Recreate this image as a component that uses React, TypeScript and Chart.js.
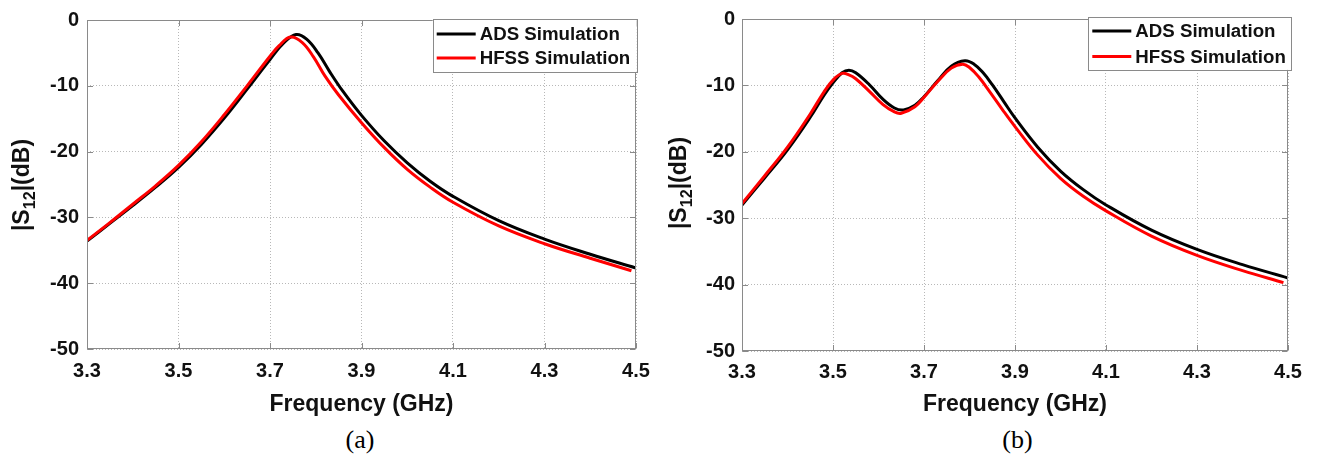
import React, { useEffect, useRef } from "react";
import { Chart, registerables } from "chart.js";

Chart.register(...registerables);

// ---------- data ----------
const seriesLabels = ["ADS Simulation", "HFSS Simulation"];
const seriesColors = ["#000000", "#ff0000"];
const xTicks = [3.3, 3.5, 3.7, 3.9, 4.1, 4.3, 4.5];
const yTicks = [0, -10, -20, -30, -40, -50];

// (a)
const freqA_ads = [3.3, 3.35, 3.4, 3.45, 3.5, 3.55, 3.6, 3.65, 3.7, 3.73, 3.757, 3.78, 3.805, 3.83, 3.86, 3.9, 3.95, 4.0, 4.05, 4.1, 4.2, 4.3, 4.4, 4.5];
const s12A_ads = [-33.6, -30.9, -28.2, -25.4, -22.4, -18.9, -14.9, -10.5, -6.0, -3.5, -2.2, -2.9, -5.0, -7.8, -10.9, -14.5, -18.4, -21.7, -24.5, -26.8, -30.5, -33.3, -35.6, -37.7];
const freqA_hfss = [3.3, 3.35, 3.4, 3.45, 3.5, 3.55, 3.6, 3.65, 3.7, 3.72, 3.745, 3.77, 3.795, 3.82, 3.85, 3.9, 3.95, 4.0, 4.05, 4.1, 4.2, 4.3, 4.4, 4.49];
const s12A_hfss = [-33.5, -30.8, -28.0, -25.2, -22.1, -18.5, -14.4, -10.0, -5.5, -3.9, -2.6, -3.4, -5.6, -8.5, -11.4, -15.6, -19.4, -22.7, -25.4, -27.7, -31.3, -34.0, -36.2, -38.1];

// (b)
const freqB_ads = [3.3, 3.35, 3.4, 3.45, 3.48, 3.5, 3.52, 3.535, 3.55, 3.58, 3.61, 3.635, 3.655, 3.68, 3.7, 3.73, 3.76, 3.79, 3.81, 3.83, 3.85, 3.875, 3.9, 3.95, 4.0, 4.05, 4.1, 4.2, 4.3, 4.4, 4.5];
const s12B_ads = [-28.0, -23.9, -19.7, -14.8, -11.5, -9.6, -8.1, -7.7, -8.1, -9.9, -12.1, -13.4, -13.7, -13.0, -11.7, -9.3, -7.1, -6.3, -6.8, -8.1, -9.9, -12.4, -14.9, -19.3, -22.9, -25.7, -28.0, -31.8, -34.7, -37.0, -39.0];
const freqB_hfss = [3.3, 3.35, 3.4, 3.45, 3.48, 3.5, 3.52, 3.535, 3.55, 3.58, 3.61, 3.635, 3.65, 3.68, 3.7, 3.73, 3.76, 3.785, 3.8, 3.82, 3.845, 3.875, 3.9, 3.95, 4.0, 4.05, 4.1, 4.2, 4.3, 4.4, 4.49];
const s12B_hfss = [-27.8, -23.6, -19.3, -14.3, -11.0, -9.2, -8.2, -8.4, -9.0, -10.9, -12.9, -14.0, -14.2, -13.2, -11.8, -9.4, -7.4, -6.8, -7.3, -8.7, -11.0, -13.9, -16.2, -20.5, -24.0, -26.7, -28.9, -32.7, -35.6, -37.9, -39.7];

// ---------- styling ----------
const FONT = "'Liberation Sans', Arial, Helvetica, sans-serif";
const SERIF = "'Liberation Serif', 'Times New Roman', serif";
const AXIS_COLOR = "#8a8a8a";
const TEXT_COLOR = "#111111";

const framePlugin = {
  id: "frame",
  afterDatasetsDraw(chart: any) {
    const { ctx, chartArea } = chart;
    const { left, top, right, bottom } = chartArea;
    const tl = 5.5;
    ctx.save();
    ctx.strokeStyle = AXIS_COLOR;
    ctx.lineWidth = 1;
    ctx.setLineDash([]);
    const L = Math.round(left) + 0.5;
    const R = Math.round(right) - 0.5;
    const T = Math.round(top) + 0.5;
    const B = Math.round(bottom) - 0.5;
    ctx.strokeRect(L, T, R - L, B - T);
    ctx.beginPath();
    chart.scales.x.ticks.forEach((t: any) => {
      const px = Math.round(chart.scales.x.getPixelForValue(t.value)) + 0.5;
      ctx.moveTo(px, B);
      ctx.lineTo(px, B - tl);
      ctx.moveTo(px, T);
      ctx.lineTo(px, T + tl);
    });
    chart.scales.y.ticks.forEach((t: any) => {
      const py = Math.round(chart.scales.y.getPixelForValue(t.value)) + 0.5;
      ctx.moveTo(L, py);
      ctx.lineTo(L + tl, py);
      ctx.moveTo(R, py);
      ctx.lineTo(R - tl, py);
    });
    ctx.stroke();
    ctx.restore();
  },
};

const boxLegendPlugin = {
  id: "boxLegend",
  afterDraw(chart: any, _args: any, opts: any) {
    const { ctx, chartArea } = chart;
    const w = opts.width;
    const h = opts.height;
    const x0 = chartArea.right + opts.right - w;
    const y0 = chartArea.top + opts.top;
    ctx.save();
    ctx.fillStyle = "#ffffff";
    ctx.fillRect(x0, y0, w, h);
    ctx.strokeStyle = AXIS_COLOR;
    ctx.lineWidth = 1;
    ctx.setLineDash([]);
    ctx.strokeRect(Math.round(x0) + 0.5, Math.round(y0) + 0.5, Math.round(w), Math.round(h));
    ctx.font = `bold ${opts.fontSize}px ${FONT}`;
    ctx.textBaseline = "middle";
    ctx.textAlign = "left";
    chart.data.datasets.forEach((ds: any, i: number) => {
      const ry = y0 + opts.rows[i];
      ctx.strokeStyle = ds.borderColor;
      ctx.lineWidth = 3;
      ctx.beginPath();
      ctx.moveTo(x0 + 4, ry);
      ctx.lineTo(x0 + 43, ry);
      ctx.stroke();
      ctx.fillStyle = TEXT_COLOR;
      ctx.fillText(ds.label, x0 + 47, ry + 1);
    });
    ctx.restore();
  },
};

type PanelCfg = {
  adsX: number[];
  adsY: number[];
  hfssX: number[];
  hfssY: number[];
  padding: { left: number; top: number; right: number; bottom: number };
  yW: number;
  xH: number;
  xPad: number;
  yPad: number;
  titlePad: number;
  legend: any;
};

function makeConfig(p: PanelCfg): any {
  const tickFont = { family: FONT, size: 20, weight: "bold" as const };
  const lineStyle = {
    borderWidth: 3,
    pointRadius: 0,
    fill: false,
    tension: 0.4,
    cubicInterpolationMode: "default",
  };
  return {
    type: "line",
    data: {
      datasets: [
        {
          label: seriesLabels[0],
          data: p.adsX.map((x, i) => ({ x, y: p.adsY[i] })),
          borderColor: seriesColors[0],
          backgroundColor: seriesColors[0],
          order: 1,
          ...lineStyle,
        },
        {
          label: seriesLabels[1],
          data: p.hfssX.map((x, i) => ({ x, y: p.hfssY[i] })),
          borderColor: seriesColors[1],
          backgroundColor: seriesColors[1],
          order: 0,
          ...lineStyle,
        },
      ],
    },
    options: {
      animation: false,
      responsive: false,
      devicePixelRatio: 1,
      layout: { padding: p.padding },
      plugins: {
        legend: { display: false },
        tooltip: { enabled: false },
        boxLegend: p.legend,
      },
      scales: {
        x: {
          type: "linear",
          min: xTicks[0],
          max: xTicks[xTicks.length - 1],
          afterBuildTicks: (s: any) => {
            s.ticks = xTicks.map((v) => ({ value: v }));
          },
          afterFit: (s: any) => {
            s.height = p.xH;
          },
          ticks: {
            padding: p.xPad,
            font: tickFont,
            color: TEXT_COLOR,
            maxRotation: 0,
            autoSkip: false,
            callback: (v: any) => Number(v).toFixed(1),
          },
          grid: { color: "#b8b8b8", lineWidth: 1, drawTicks: false },
          border: { display: false, dash: [1, 2] },
          title: {
            display: true,
            text: "Frequency (GHz)",
            font: { family: FONT, size: 23, weight: "bold" },
            color: TEXT_COLOR,
            padding: { top: 0, bottom: p.titlePad },
          },
        },
        y: {
          type: "linear",
          min: yTicks[yTicks.length - 1],
          max: yTicks[0],
          afterBuildTicks: (s: any) => {
            s.ticks = yTicks.slice().reverse().map((v) => ({ value: v }));
          },
          afterFit: (s: any) => {
            s.width = p.yW;
          },
          ticks: {
            padding: p.yPad,
            font: tickFont,
            color: TEXT_COLOR,
            autoSkip: false,
            callback: (v: any) => String(v),
          },
          grid: { color: "#b8b8b8", lineWidth: 1, drawTicks: false },
          border: { display: false, dash: [1, 2] },
          title: { display: false },
        },
      },
    },
    plugins: [framePlugin, boxLegendPlugin],
  };
}

const panelA: PanelCfg = {
  adsX: freqA_ads,
  adsY: s12A_ads,
  hfssX: freqA_hfss,
  hfssY: s12A_hfss,
  padding: { left: 0, top: 19, right: 26, bottom: 0 },
  yW: 87,
  xH: 71,
  xPad: 10,
  yPad: 8,
  titlePad: 2,
  legend: { right: 0.7, top: -0.7, width: 204, height: 53, rows: [14.8, 38.6], fontSize: 18.7 },
};

const panelB: PanelCfg = {
  adsX: freqB_ads,
  adsY: s12B_ads,
  hfssX: freqB_hfss,
  hfssY: s12B_hfss,
  padding: { left: 0, top: 13, right: 37, bottom: 0 },
  yW: 80,
  xH: 69,
  xPad: 9,
  yPad: 7,
  titlePad: 2,
  legend: { right: 3.3, top: -1.6, width: 203, height: 52.5, rows: [13.6, 39], fontSize: 18.7 },
};

function ChartPanel({ cfg, left, width, height }: { cfg: PanelCfg; left: number; width: number; height: number }) {
  const ref = useRef<HTMLCanvasElement | null>(null);
  useEffect(() => {
    if (!ref.current) return;
    const chart = new Chart(ref.current, makeConfig(cfg));
    return () => chart.destroy();
  }, [cfg]);
  return (
    <div style={{ position: "absolute", left, top: 0, width, height }}>
      <canvas ref={ref} width={width} height={height} style={{ display: "block", width, height }} />
    </div>
  );
}

function YTitle({ cx, cy }: { cx: number; cy: number }) {
  return (
    <div
      style={{
        position: "absolute",
        left: cx - 150,
        top: cy - 15,
        width: 300,
        height: 30,
        lineHeight: "30px",
        textAlign: "center",
        transform: "rotate(-90deg)",
        fontFamily: FONT,
        fontWeight: "bold",
        fontSize: 23,
        color: TEXT_COLOR,
        whiteSpace: "nowrap",
      }}
    >
      |S<sub style={{ fontSize: "0.7em", verticalAlign: "-0.35em", lineHeight: 0 }}>12</sub>|(dB)
    </div>
  );
}

function Caption({ cx, text }: { cx: number; text: string }) {
  return (
    <div
      style={{
        position: "absolute",
        left: cx - 50,
        top: 424.5,
        width: 100,
        height: 30,
        lineHeight: "30px",
        textAlign: "center",
        fontFamily: SERIF,
        fontSize: 26,
        color: "#000",
        whiteSpace: "nowrap",
      }}
    >
      {text}
    </div>
  );
}

export default function App() {
  return (
    <div style={{ position: "absolute", left: 0, top: 0, width: 1325, height: 458, background: "#ffffff", overflow: "hidden" }}>
      <ChartPanel cfg={panelA} left={0} width={662} height={420} />
      <ChartPanel cfg={panelB} left={662} width={663} height={420} />
      <YTitle cx={21} cy={184.5} />
      <YTitle cx={677.5} cy={182.5} />
      <Caption cx={360} text="(a)" />
      <Caption cx={1017.5} text="(b)" />
    </div>
  );
}
